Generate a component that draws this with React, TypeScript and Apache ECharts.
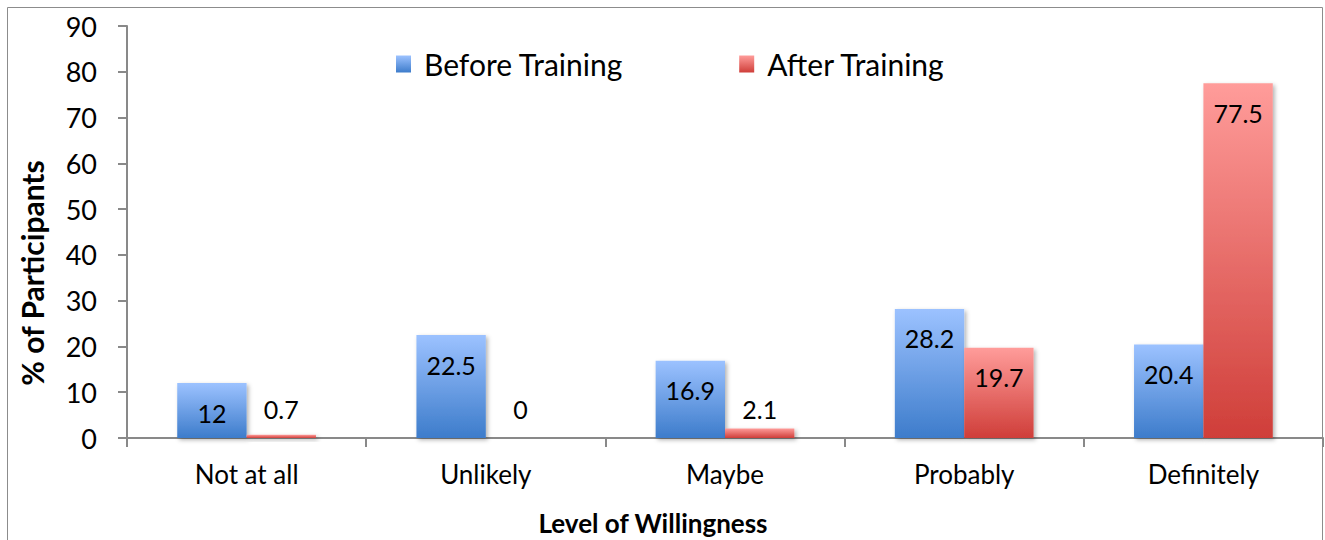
import React, { useEffect, useRef } from "react";
import * as echarts from "echarts";

const categories = ["Not at all", "Unlikely", "Maybe", "Probably", "Definitely"];
const beforeTraining = [12, 22.5, 16.9, 28.2, 20.4];
const afterTraining = [0.7, 0, 2.1, 19.7, 77.5];
const seriesNames = ["Before Training", "After Training"];
const xAxisTitle = "Level of Willingness";
const yAxisTitle = "% of Participants";

const FONT = "Lato";

function makeData(values: number[]) {
  return values.map((v) => {
    if (v < 6) {
      return {
        value: v,
        label: { position: "insideBottom", distance: 17 },
      };
    }
    return { value: v };
  });
}

export default function App() {
  const ref = useRef<HTMLDivElement>(null);
  useEffect(() => {
    if (!ref.current) return;
    const chart = echarts.init(ref.current, null, { renderer: "svg" });
    const blue = new echarts.graphic.LinearGradient(0, 0, 0, 1, [
      { offset: 0, color: "#9CC2FF" },
      { offset: 1, color: "#3D7CCB" },
    ]);
    const red = new echarts.graphic.LinearGradient(0, 0, 0, 1, [
      { offset: 0, color: "#FF9C9A" },
      { offset: 1, color: "#CF3E39" },
    ]);
    const labelStyle = {
      show: true,
      position: "insideTop",
      distance: 17,
      color: "#000",
      fontFamily: FONT,
      fontSize: 25,
    };
    const itemStyleBase = {
      shadowColor: "rgba(0,0,0,0.3)",
      shadowBlur: 4,
      shadowOffsetX: 2,
      shadowOffsetY: 2,
    };
    chart.setOption({
      animation: false,
      backgroundColor: "#fff",
      textStyle: { fontFamily: FONT },
      graphic: [
        {
          type: "rect",
          shape: { x: 7.5, y: 7.5, width: 1315, height: 600 },
          style: { fill: "none", stroke: "#8c8c8c", lineWidth: 1 },
          silent: true,
          z: -1,
        },
        {
          type: "text",
          x: 653,
          y: 523,
          style: {
            text: xAxisTitle,
            fontFamily: FONT,
            fontSize: 26,
            fontWeight: "bold",
            fill: "#000",
            textAlign: "center",
            textVerticalAlign: "middle",
          },
        },
        {
          type: "text",
          x: 32,
          y: 273,
          rotation: Math.PI / 2,
          style: {
            text: yAxisTitle,
            fontFamily: FONT,
            fontSize: 30,
            fontWeight: "bold",
            fill: "#000",
            textAlign: "center",
            textVerticalAlign: "middle",
          },
        },
      ],
      legend: {
        data: [
          { name: seriesNames[0], itemStyle: { color: blue } },
          { name: seriesNames[1], itemStyle: { color: red } },
        ],
        left: 391,
        top: 44,
        itemWidth: 15,
        itemHeight: 17,
        itemGap: 116,
        icon: "rect",
        textStyle: { fontFamily: FONT, fontSize: 30, color: "#000", padding: [0, 0, 0, 8] },
      },
      grid: { left: 127, right: 2, top: 26, bottom: 102, outerBoundsMode: "none", containLabel: false },
      xAxis: {
        type: "category",
        data: categories,
        axisLine: { lineStyle: { color: "#898989", width: 2 } },
        axisTick: { show: true, length: 9, lineStyle: { color: "#898989", width: 2 } },
        axisLabel: { fontFamily: FONT, fontSize: 26, color: "#000", margin: 23 },
      },
      yAxis: {
        type: "value",
        min: 0,
        max: 90,
        interval: 10,
        axisLine: { show: true, lineStyle: { color: "#898989", width: 2 } },
        axisTick: { show: true, length: 9, lineStyle: { color: "#898989", width: 2 } },
        axisLabel: { fontFamily: FONT, fontSize: 27, color: "#000", margin: 30 },
        splitLine: { show: false },
      },
      series: [
        {
          name: seriesNames[0],
          type: "bar",
          data: makeData(beforeTraining),
          barGap: "0%",
          barCategoryGap: "42%",
          itemStyle: { color: blue, ...itemStyleBase },
          label: labelStyle,
        },
        {
          name: seriesNames[1],
          type: "bar",
          data: makeData(afterTraining),
          barGap: "0%",
          barCategoryGap: "42%",
          itemStyle: { color: red, ...itemStyleBase },
          label: labelStyle,
        },
      ],
    });
    return () => chart.dispose();
  }, []);
  return (
    <div
      ref={ref}
      style={{ position: "fixed", left: 0, top: 0, width: 1325, height: 540 }}
    />
  );
}
